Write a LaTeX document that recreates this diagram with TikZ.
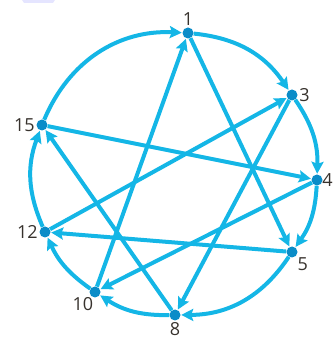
\documentclass[tikz,border=0pt]{standalone}
\usepackage{fontspec}
\setmainfont{Open Sans}
\usetikzlibrary{arrows.meta}

\definecolor{edgecyan}{RGB}{20,182,230}
\definecolor{dotblue}{RGB}{10,140,200}
\definecolor{lblgray}{RGB}{55,50,45}

\begin{document}
\begin{tikzpicture}[x=1pt, y=1pt,
    vert/.style={circle, fill=dotblue, inner sep=0pt, minimum size=11pt},
    lbl/.style={text=lblgray, font=\fontsize{18}{20}\selectfont, inner sep=1.5pt},
    arc/.style={draw=edgecyan, line width=4pt, -{Stealth[length=12pt, width=12pt, inset=2pt]}, shorten >=0.5pt}]
  \useasboundingbox (0,0) rectangle (335,343);
  \fill[blue!10] (22,343) -- (55,343) -- (53,340) -- (24,340) -- cycle;

  % vertices
  \node[vert, label={[lbl]above:1}]                   (v1)  at (188,310) {};
  \node[vert, label={[lbl]right:3}]                   (v3)  at (292,248) {};
  \node[vert, label={[lbl, xshift=-2pt]right:4}]      (v4)  at (317,163) {};
  \node[vert, label={[lbl]below right:5}]             (v5)  at (292,91)  {};
  \node[vert, label={[lbl]below:8}]                   (v8)  at (175,28)  {};
  \node[vert, label={[lbl, xshift=4pt]below left:10}] (v10) at (95,51)   {};
  \node[vert, label={[lbl]left:12}]                   (v12) at (45,111)  {};
  \node[vert, label={[lbl]left:15}]                   (v15) at (42,218)  {};

  % round the circle
  \draw[arc] (v15) to[bend left=35] (v1);
  \draw[arc] (v1)  to[bend left=25] (v3);
  \draw[arc] (v3)  to[bend left=18] (v4);
  \draw[arc] (v4)  to[bend left=16] (v5);
  \draw[arc] (v5)  to[bend left=28] (v8);
  \draw[arc] (v8)  to[bend left=17] (v10);
  \draw[arc] (v10) to[bend left=15] (v12);
  \draw[arc] (v12) to[bend left=22] (v15);

  % across
  \draw[arc] (v1)  -- (v5);
  \draw[arc] (v10) -- (v1);
  \draw[arc] (v12) -- (v3);
  \draw[arc] (v3)  -- (v8);
  \draw[arc] (v15) -- (v4);
  \draw[arc] (v4)  -- (v10);
  \draw[arc] (v5)  -- (v12);
  \draw[arc] (v8)  -- (v15);
\end{tikzpicture}
\end{document}
